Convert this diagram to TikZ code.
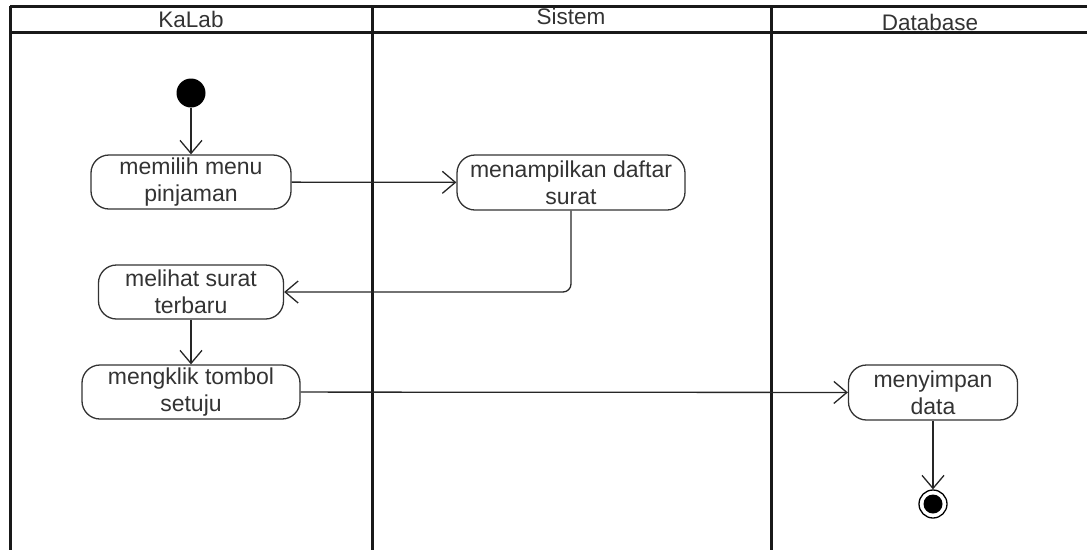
\documentclass[tikz,border=0pt]{standalone}
\usepackage{fontspec}
\setmainfont{Liberation Sans}
\usetikzlibrary{arrows.meta}

\tikzset{
  act/.style={rectangle,rounded corners=18pt,draw=black!80,line width=1.3pt,align=center,inner sep=0pt,text=black!80,font=\fontsize{23}{27}\selectfont},
  flow/.style={-{Straight Barb[length=13pt,width=22pt]},line width=1.3pt,draw=black!85},
  lane/.style={line width=3pt,draw=black!90},
  lanetitle/.style={text=black!80,font=\fontsize{22.5}{27}\selectfont}
}

\begin{document}
\begin{tikzpicture}[x=1pt,y=-1pt]
    \useasboundingbox (0,0) rectangle (1087,550);
    % swimlanes
    \draw[lane] (10,6) -- (1087,6);
    \draw[lane] (10,32) -- (1087,32);
    \draw[lane] (10,6) -- (10,550);
    \draw[lane] (372,6) -- (372,550);
    \draw[lane] (771,6) -- (771,550);
    \node (kalab) at (191,19) [lanetitle] {KaLab};
    \node (sistem) at (571,16) [lanetitle] {Sistem};
    \node (database) at (930,22) [lanetitle] {Database};
    % nodes
    \node (start) at (191,93) [circle,fill=black,minimum size=29pt,inner sep=0pt] {};
    \node (pilih) at (191,182) [act,minimum width=200pt,minimum height=54pt] {memilih menu\\pinjaman};
    \node (tampil) at (571,182.5) [act,minimum width=228pt,minimum height=55pt] {menampilkan daftar\\surat};
    \node (lihat) at (191,292) [act,minimum width=185pt,minimum height=54pt] {melihat surat\\terbaru};
    \node (klik) at (191,392) [act,minimum width=218pt,minimum height=54pt] {mengklik tombol\\setuju};
    \node (simpan) at (933,392.5) [act,minimum width=169pt,minimum height=55pt] {menyimpan\\data};
    \node (stop) at (933,504) [circle,draw=black,line width=1.3pt,minimum size=28pt,inner sep=0pt] {};
    \node (stopdot) at (stop) [circle,fill=black,minimum size=19pt,inner sep=0pt] {};
    % paths
    \draw[flow] (start) -- (pilih);
    \draw[flow] (pilih) -- (tampil);
    \draw[flow,rounded corners=8pt] (tampil.south) |- (lihat.east);
    \draw[flow] (lihat) -- (klik);
    \draw[flow] (klik) -- (simpan);
    \draw[flow] (simpan) -- (stop);
\end{tikzpicture}
\end{document}
